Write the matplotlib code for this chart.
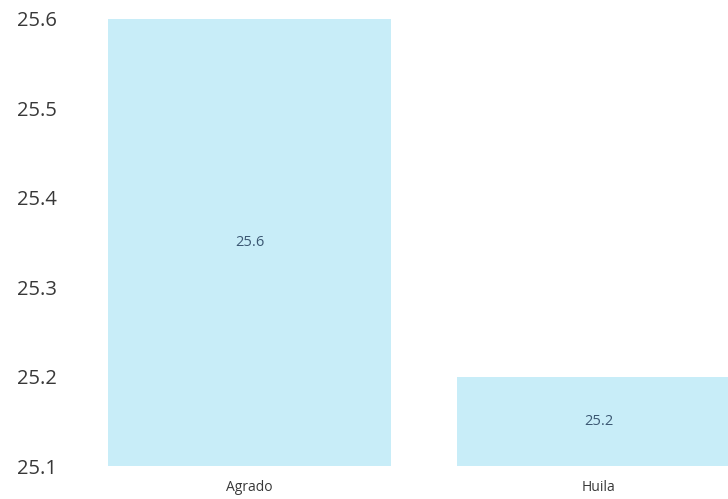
import matplotlib
matplotlib.use("Agg")
import matplotlib.pyplot as plt

categories = ["Agrado", "Huila"]
values = [25.6, 25.2]
value_labels = ["25.6", "25.2"]
yticks = [25.1, 25.2, 25.3, 25.4, 25.5, 25.6]

plt.rcParams['font.family'] = ['Open Sans', 'DejaVu Sans']

fig = plt.figure(figsize=(7.28, 4.99), dpi=100)
ax = fig.add_axes([100/728, 33/499, 628/728, 447/499])

x = list(range(len(categories)))
ymin = 25.1
ax.bar(x, [v - ymin for v in values], bottom=ymin, width=0.81, color="#c8edf8")
ax.set_ylim(ymin, 25.6)
ax.set_xlim(-0.428, 1.371)

for xi, v, lab in zip(x, values, value_labels):
    ax.text(xi, (v + ymin) / 2, lab, ha="center", va="center", fontsize=10.5, color="#3c5873")

ax.set_yticks(yticks)
ax.set_yticklabels([f"{t:.1f}" for t in yticks])
ax.set_xticks(x)
ax.set_xticklabels(categories)
ax.tick_params(axis="y", length=0, pad=31, labelsize=14.5, labelcolor="#383838")
ax.tick_params(axis="x", length=0, pad=10, labelsize=10, labelcolor="#383838")
for s in ax.spines.values():
    s.set_visible(False)

fig.savefig("out.png", dpi=100)
